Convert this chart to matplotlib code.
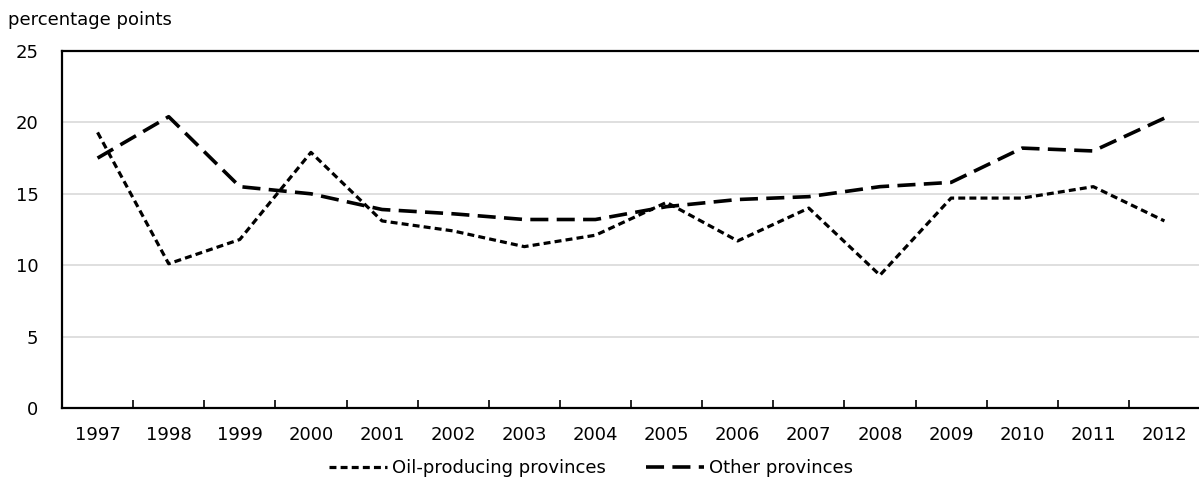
import matplotlib
matplotlib.use('Agg')
import matplotlib.pyplot as plt
import numpy as np

# Difference in percentage points, by year
years = ['1997', '1998', '1999', '2000', '2001', '2002', '2003', '2004',
         '2005', '2006', '2007', '2008', '2009', '2010', '2011', '2012']
oil_producing = [19.3, 10.1, 11.8, 17.9, 13.1, 12.4, 11.3, 12.1,
                 14.4, 11.7, 14.0, 9.3, 14.7, 14.7, 15.5, 13.1]
other_provinces = [17.5, 20.4, 15.5, 15.0, 13.9, 13.6, 13.2, 13.2,
                   14.1, 14.6, 14.8, 15.5, 15.8, 18.2, 18.0, 20.3]

plt.rcParams['font.family'] = ['DejaVu Sans']
plt.rcParams['lines.scale_dashes'] = False
fs = 13

fig = plt.figure(figsize=(11.99, 4.93), dpi=100)
ax = fig.add_axes([62 / 1199, 1 - 408 / 493, 1138 / 1199, 357 / 493])

x = np.arange(len(years))
ax.plot(x, oil_producing, color='black', lw=2.3, dashes=(5, 3),
        dash_capstyle='butt', label='Oil-producing provinces')
ax.plot(x, other_provinces, color='black', lw=2.6, dashes=(13, 6),
        dash_capstyle='butt', label='Other provinces')

ax.set_xlim(-0.5, len(years) - 0.5)
ax.set_ylim(0, 25)
ax.set_yticks([0, 5, 10, 15, 20, 25])
ax.tick_params(axis='y', length=0, pad=17, labelsize=fs)
ax.grid(axis='y', color='#d9d9d9', lw=1.2)
ax.set_axisbelow(True)

# ticks between categories, labels centred under each year
ax.set_xticks(np.arange(0.5, len(years) - 0.5), minor=False)
ax.set_xticklabels([])
ax.set_xticks(x, minor=True)
ax.set_xticklabels(years, minor=True)
ax.tick_params(axis='x', which='major', direction='in', length=6, width=1.2)
ax.tick_params(axis='x', which='minor', length=0, pad=13, labelsize=fs)

for side in ['left', 'bottom', 'top']:
    ax.spines[side].set_linewidth(1.6)
    ax.spines[side].set_color('black')
ax.spines['right'].set_visible(False)

fig.text(8 / 1199, 1 - 20 / 493, 'percentage points', fontsize=fs,
         va='center', ha='left')

ax.legend(loc='center', bbox_to_anchor=(0.465, -0.168), ncol=2, frameon=False,
          fontsize=fs, handlelength=3.2, handletextpad=0.3, columnspacing=2.2)

fig.savefig('out.png', dpi=100)
